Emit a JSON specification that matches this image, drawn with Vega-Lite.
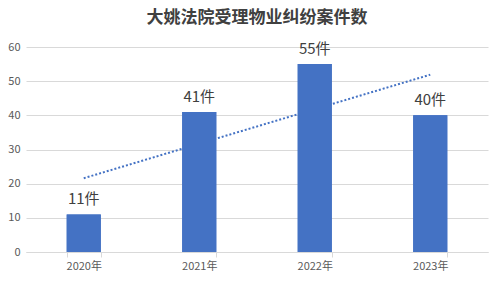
{
  "$schema": "https://vega.github.io/schema/vega-lite/v6.json",
  "autosize": {"type": "none"},
  "padding": {"left": 26, "top": 47, "right": 13, "bottom": 33},
  "width": 462,
  "height": 205,
  "background": "white",
  "title": {
    "text": "大姚法院受理物业纠纷案件数",
    "font": "Noto Sans CJK SC",
    "fontSize": 17,
    "fontWeight": "bold",
    "color": "#404040",
    "anchor": "middle",
    "offset": 14
  },
  "data": {
    "values": [
      {"year": "2020年", "value": 11, "label": "11件", "trend": 21.6},
      {"year": "2021年", "value": 41, "label": "41件", "trend": 31.7},
      {"year": "2022年", "value": 55, "label": "55件", "trend": 41.8},
      {"year": "2023年", "value": 40, "label": "40件", "trend": 51.9}
    ]
  },
  "config": {
    "view": {"stroke": null},
    "axis": {"labelFont": "Noto Sans CJK SC", "labelFontSize": 11, "labelColor": "#595959"}
  },
  "resolve": {"axis": {"y": "independent"}},
  "encoding": {
    "x": {
      "field": "year",
      "type": "nominal",
      "sort": null,
      "scale": {"paddingInner": 0.705, "paddingOuter": 0.3525},
      "axis": {
        "title": null,
        "labelAngle": 0,
        "domainColor": "#d9d9d9",
        "tickColor": "#d9d9d9",
        "tickBand": "extent",
        "tickSize": 5,
        "labelPadding": 3,
        "grid": false
      }
    }
  },
  "layer": [
    {
      "mark": {"type": "bar", "color": "#4472C4"},
      "encoding": {
        "y": {
          "field": "value",
          "type": "quantitative",
          "scale": {"domain": [0, 60], "nice": false},
          "axis": {
            "title": null,
            "values": [0, 10, 20, 30, 40, 50, 60],
            "labelOverlap": false,
            "domain": false,
            "ticks": false,
            "gridColor": "#d9d9d9",
            "labelPadding": 6
          }
        }
      }
    },
    {
      "mark": {"type": "line", "color": "#4472C4", "strokeWidth": 2, "strokeDash": [2, 2]},
      "encoding": {
        "y": {"field": "trend", "type": "quantitative", "axis": null}
      }
    },
    {
      "mark": {"type": "bar", "color": "#4472C4"},
      "encoding": {
        "y": {"field": "value", "type": "quantitative", "axis": null}
      }
    },
    {
      "mark": {"type": "text", "font": "Noto Sans CJK SC", "fontSize": 15, "color": "#404040", "baseline": "bottom", "dy": -7},
      "encoding": {
        "y": {"field": "value", "type": "quantitative", "axis": null},
        "text": {"field": "label"}
      }
    }
  ]
}
